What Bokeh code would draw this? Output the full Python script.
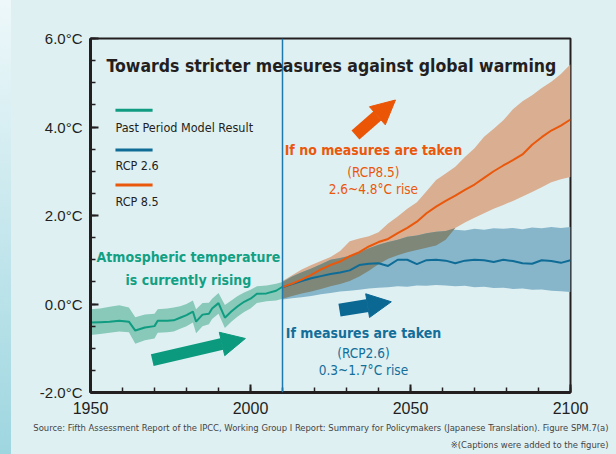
import numpy as np
from bokeh.plotting import figure
from bokeh.models import Label, Arrow, NormalHead, Span, FixedTicker, Title
from bokeh.embed import file_html
from bokeh.resources import INLINE

# ---------------- data ----------------
hist_years = [1950, 1953, 1956, 1959, 1962, 1964, 1967, 1970, 1971, 1974, 1976, 1978,
              1980, 1982, 1983, 1985, 1987, 1988, 1990, 1992, 1994, 1996, 1998, 2000,
              2002, 2005, 2008, 2010]
hist_mean = [-0.42, -0.41, -0.40, -0.38, -0.40, -0.60, -0.53, -0.50, -0.38, -0.38, -0.37, -0.31,
             -0.25, -0.17, -0.40, -0.24, -0.22, -0.10, 0.02, -0.31, -0.17, -0.05, 0.05, 0.12,
             0.23, 0.24, 0.30, 0.39]
hist_hi = [-0.12, -0.10, -0.06, -0.03, -0.08, -0.30, -0.24, -0.22, -0.12, -0.10, -0.08, -0.05,
           0.00, 0.08, -0.12, 0.02, 0.03, 0.12, 0.25, -0.02, 0.08, 0.18, 0.26, 0.32,
           0.40, 0.42, 0.46, 0.50]
hist_lo = [-0.70, -0.68, -0.65, -0.62, -0.64, -0.90, -0.82, -0.78, -0.65, -0.64, -0.62, -0.56,
           -0.50, -0.42, -0.66, -0.50, -0.46, -0.34, -0.22, -0.54, -0.40, -0.28, -0.18, -0.10,
           0.02, 0.06, 0.08, 0.12]

fut_years = [2010, 2013, 2016, 2019, 2022, 2025, 2028, 2031, 2034, 2037, 2040, 2043, 2046,
             2049, 2052, 2055, 2058, 2061, 2064, 2067, 2070, 2073, 2076, 2079, 2082, 2085,
             2088, 2091, 2094, 2097, 2100]
rcp85_mean = [0.38, 0.46, 0.55, 0.66, 0.78, 0.88, 0.96, 1.08, 1.17, 1.30, 1.40, 1.47, 1.60,
              1.72, 1.86, 2.05, 2.20, 2.33, 2.45, 2.58, 2.70, 2.85, 3.00, 3.13, 3.25, 3.38,
              3.60, 3.77, 3.92, 4.03, 4.17]
rcp85_hi = [0.52, 0.65, 0.78, 0.88, 0.97, 1.06, 1.20, 1.42, 1.48, 1.53, 1.62, 1.82, 1.98,
            2.15, 2.30, 2.55, 2.80, 2.95, 3.10, 3.32, 3.52, 3.78, 3.96, 4.15, 4.40, 4.58,
            4.72, 4.88, 5.02, 5.20, 5.42]
rcp85_lo = [0.12, 0.18, 0.24, 0.28, 0.34, 0.40, 0.45, 0.52, 0.62, 0.75, 0.90, 1.02, 1.10,
            1.17, 1.22, 1.27, 1.32, 1.45, 1.72, 1.84, 1.95, 2.05, 2.15, 2.24, 2.33, 2.43,
            2.53, 2.64, 2.75, 2.82, 2.87]
rcp26_mean = [0.38, 0.45, 0.52, 0.58, 0.63, 0.68, 0.71, 0.76, 0.88, 0.91, 0.92, 0.86, 1.00,
              1.00, 0.90, 0.99, 1.00, 0.98, 0.92, 0.98, 1.00, 0.99, 0.95, 1.00, 0.97, 0.92,
              0.91, 0.99, 0.97, 0.93, 0.99]
rcp26_hi = [0.50, 0.62, 0.72, 0.80, 0.90, 1.00, 1.04, 1.09, 1.17, 1.26, 1.34, 1.40, 1.45,
            1.52, 1.55, 1.60, 1.63, 1.65, 1.68, 1.66, 1.70, 1.68, 1.71, 1.70, 1.72, 1.69,
            1.73, 1.71, 1.74, 1.72, 1.74]
rcp26_lo = [0.10, 0.13, 0.15, 0.18, 0.22, 0.25, 0.28, 0.30, 0.32, 0.35, 0.37, 0.38, 0.40,
            0.39, 0.42, 0.41, 0.43, 0.42, 0.40, 0.41, 0.38, 0.39, 0.36, 0.37, 0.34, 0.35,
            0.32, 0.33, 0.30, 0.29, 0.27]

y_ticks = [-2, 0, 2, 4, 6]
y_tick_labels = ["-2.0°C", "0.0°C", "2.0°C", "4.0°C", "6.0°C"]
x_ticks = [1950, 2000, 2050, 2100]
x_tick_labels = ["1950", "2000", "2050", "2100"]
present_year = 2010

# ---------------- styles ----------------
BG = "#dff0f3"
INK = "#231f20"
GREEN_BAND, GREEN_LINE, GREEN_TXT = "#88c9b9", "#0f9c80", "#12a083"
ORANGE_BAND, ORANGE_LINE = "#d9ae91", "#ea580c"
BLUE_BAND, BLUE_LINE, BLUE_TXT = "#87b6cb", "#0f6c96", "#136e99"
GRAY_BAND = "#7f8778"
NARROW = "DejaVu Sans Condensed, Roboto"
REG = "Liberation Sans"

p = figure(width=616, height=454, x_range=(1950, 2100), y_range=(-2, 6),
           output_backend="svg", toolbar_location=None,
           min_border_left=90, min_border_right=46, min_border_top=38, min_border_bottom=62)
p.styles = {"position": "absolute", "left": "0px", "top": "0px",
            "background": "linear-gradient(to bottom, #eef8fa, #9ed6e0) left top / 11px 100% no-repeat, " + BG}
p.background_fill_alpha = 0
p.border_fill_alpha = 0
p.grid.visible = False
p.outline_line_color = INK
p.outline_line_width = 2

for ax in (p.xaxis[0], p.yaxis[0]):
    ax.axis_line_color = INK
    ax.axis_line_width = 3
    ax.major_tick_line_color = INK
    ax.major_tick_line_width = 2
    ax.minor_tick_line_color = INK
    ax.minor_tick_line_width = 1.5
    ax.major_tick_in = 8
    ax.major_tick_out = 0
    ax.minor_tick_in = 5
    ax.minor_tick_out = 0
    ax.major_label_text_color = INK
    ax.major_label_text_font = REG

p.yaxis.ticker = FixedTicker(ticks=y_ticks, minor_ticks=list(np.arange(-2, 6.01, 0.5)))
p.yaxis.major_label_overrides = dict(zip(y_ticks, y_tick_labels))
p.yaxis.major_label_text_font_size = "15px"
p.yaxis.major_label_standoff = 8
p.xaxis.ticker = FixedTicker(ticks=x_ticks, minor_ticks=list(range(1950, 2101, 10)))
p.xaxis.major_label_overrides = dict(zip(x_ticks, x_tick_labels))
p.xaxis.major_label_text_font_size = "16px"
p.xaxis.major_label_standoff = 9

# bands
fy = np.array(fut_years)
o_hi, o_lo = np.array(rcp85_hi), np.array(rcp85_lo)
b_hi, b_lo = np.array(rcp26_hi), np.array(rcp26_lo)
ov_top = np.minimum(o_hi, b_hi)
ov_bot = np.maximum(o_lo, b_lo)
ov_top = np.maximum(ov_top, ov_bot)

p.varea(x=hist_years, y1=hist_lo, y2=hist_hi, fill_color=GREEN_BAND)
p.varea(x=fut_years, y1=rcp85_lo, y2=rcp85_hi, fill_color=ORANGE_BAND)
p.varea(x=fut_years, y1=rcp26_lo, y2=rcp26_hi, fill_color=BLUE_BAND)
p.varea(x=fy, y1=ov_bot, y2=ov_top, fill_color=GRAY_BAND)

p.line(hist_years, hist_mean, line_color=GREEN_LINE, line_width=2)
p.line(fut_years, rcp26_mean, line_color=BLUE_LINE, line_width=2)
p.line(fut_years, rcp85_mean, line_color=ORANGE_LINE, line_width=2)

p.add_layout(Span(location=present_year, dimension="height", line_color="#1f78ad", line_width=1.5))

# title
p.add_layout(Label(x=2025.3, y=5.38, text="Towards stricter measures against global warming",
                   text_font=NARROW, text_font_style="bold", text_font_size="17.5px",
                   text_color=INK, text_align="center", text_baseline="middle"))

# legend
leg = [("Past Period Model Result", GREEN_LINE, 4.38, 4.0),
       ("RCP 2.6", BLUE_LINE, 3.48, 3.12),
       ("RCP 8.5", ORANGE_LINE, 2.69, 2.31)]
for txt, col, ly, ty in leg:
    p.segment(x0=1957.8, y0=ly, x1=1969.4, y1=ly, line_color=col, line_width=3)
    p.add_layout(Label(x=1957.8, y=ty, text=txt, text_font=NARROW, text_font_size="12.5px",
                       text_color=INK, text_align="left", text_baseline="middle"))

# arrows
p.add_layout(Arrow(x_start=1969.3, y_start=-1.27, x_end=1998.4, y_end=-0.78,
                   line_color="#0b9a7d", line_width=12,
                   end=NormalHead(size=24, fill_color="#0b9a7d", line_color="#0b9a7d")))
p.add_layout(Arrow(x_start=2032.8, y_start=3.82, x_end=2045.3, y_end=4.61,
                   line_color="#ea5506", line_width=12,
                   end=NormalHead(size=24, fill_color="#ea5506", line_color="#ea5506")))
p.add_layout(Arrow(x_start=2027.8, y_start=-0.14, x_end=2044.0, y_end=0.05,
                   line_color="#0b6893", line_width=13,
                   end=NormalHead(size=24, fill_color="#0b6893", line_color="#0b6893")))

def lab(x, y, t, col, size, bold=False):
    p.add_layout(Label(x=x, y=y, text=t, text_font=NARROW, text_font_size=size,
                       text_font_style="bold" if bold else "normal",
                       text_color=col, text_align="center", text_baseline="middle"))

lab(1980.6, 1.06, "Atmospheric temperature", GREEN_TXT, "14px", True)
lab(1980.6, 0.54, "is currently rising", GREEN_TXT, "14px", True)
lab(2038.4, 3.48, "If no measures are taken", ORANGE_LINE, "14px", True)
lab(2038.4, 2.98, "(RCP8.5)", ORANGE_LINE, "13.5px")
lab(2038.4, 2.60, "2.6~4.8°C rise", ORANGE_LINE, "13.5px")
lab(2035.3, -0.66, "If measures are taken", BLUE_TXT, "14px", True)
lab(2035.3, -1.11, "(RCP2.6)", BLUE_TXT, "13.5px")
lab(2035.3, -1.49, "0.3~1.7°C rise", BLUE_TXT, "13.5px")

# source lines
src1 = "Source: Fifth Assessment Report of the IPCC, Working Group I Report: Summary for Policymakers (Japanese Translation). Figure SPM.7(a)"
src2 = "※(Captions were added to the figure)"
for t, so in ((src1, 7), (src2, 1)):
    p.add_layout(Title(text=t, align="right", offset=-38, standoff=so,
                       text_font=NARROW, text_font_size="9.4px", text_font_style="normal",
                       text_color="#444444"), "below")

open("out.html", "w").write(file_html(p, INLINE))
